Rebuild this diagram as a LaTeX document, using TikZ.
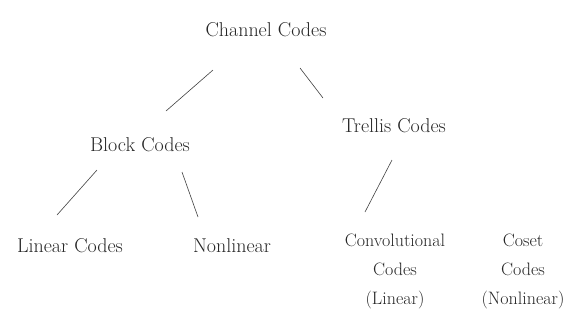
\documentclass[tikz,border=0pt]{standalone}
\usepackage{tikz}
\usetikzlibrary{calc}

\tikzset{
  label/.style={font=\fontsize{20}{24}\selectfont,text=black!85,inner sep=0pt},
  leaf/.style={font=\fontsize{18}{29}\selectfont,text=black!85,inner sep=0pt,align=center},
  branch/.style={black!75,line width=0.6pt}
}

\begin{document}
\begin{tikzpicture}[x=1pt,y=-1pt]
\useasboundingbox (0,0) rectangle (573,322);
\node[label] (chan) at (266,30) {Channel Codes};
\node[label] (block) at (140,145) {Block Codes};
\node[label] (trel) at (394,126) {Trellis Codes};
\node[label] (lin) at (70,246) {Linear Codes};
\node[label] (nonlin) at (232,246) {Nonlinear};
\node[leaf] (conv) at (395,271) {Convolutional\\Codes\\(Linear)};
\node[leaf] (coset) at (523,271) {Coset\\Codes\\(Nonlinear)};
\draw[branch] ($(chan)+(-53,40)$) -- ($(block)+(26,-34)$);
\draw[branch] ($(chan)+(34,38)$) -- ($(trel)+(-71,-28)$);
\draw[branch] ($(block)+(-43,25)$) -- ($(lin)+(-13,-31)$);
\draw[branch] ($(block)+(42,27)$) -- ($(nonlin)+(-34,-29)$);
\draw[branch] ($(trel)+(-2,34)$) -- ($(conv)+(-30,-59)$);
\end{tikzpicture}
\end{document}
